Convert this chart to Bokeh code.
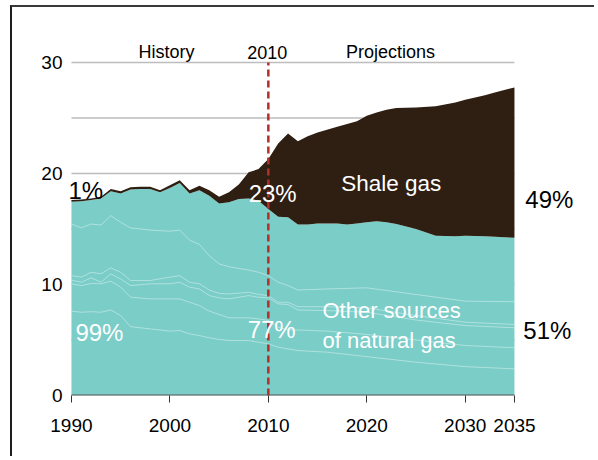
from bokeh.plotting import figure
from bokeh.models import Range1d, FixedTicker, ColumnDataSource
from bokeh.embed import file_html
from bokeh.resources import INLINE
from bokeh.core.properties import value

# ---- data ----
years = list(range(1990, 2015)) + [2015, 2017, 2018, 2019, 2020, 2021, 2022,
                                   2023, 2025, 2027, 2029, 2030, 2032, 2033, 2035]
total_gas = [17.6, 17.65, 17.75, 17.9, 18.6, 18.4, 18.75, 18.8, 18.8, 18.5,
             18.95, 19.4, 18.5, 18.9, 18.5, 17.9, 18.3, 19.0, 20.1, 20.4,
             21.3, 22.7, 23.6, 22.9, 23.35,
             23.7, 24.2, 24.45, 24.7, 25.2, 25.5, 25.75, 25.9, 25.95, 26.05,
             26.4, 26.65, 27.05, 27.3, 27.75]
other_sources = [17.45, 17.5, 17.6, 17.75, 18.4, 18.2, 18.55, 18.6, 18.6, 18.3,
                 18.7, 19.15, 18.2, 18.5, 18.0, 17.3, 17.4, 17.7, 17.75, 17.55,
                 16.8, 16.1, 16.05, 15.4, 15.4,
                 15.5, 15.5, 15.4, 15.5, 15.6, 15.7, 15.6, 15.45, 15.0, 14.4,
                 14.35, 14.4, 14.35, 14.3, 14.2]

# inner boundaries of the "other sources" components (cumulative)
sub_years = [1990, 1991, 1992, 1993, 1994, 1995, 1996, 1998, 2000, 2001, 2002,
             2003, 2004, 2005, 2006, 2008, 2009, 2010, 2011, 2012, 2013, 2016,
             2020, 2025, 2030, 2035]
sub_a = [15.45, 15.1, 15.45, 15.35, 16.2, 15.6, 15.1, 14.9, 14.8, 14.9, 14.0,
         13.6, 12.6, 11.85, 11.6, 11.3, 11.1, 10.8, 10.2, 9.9, 9.5, 9.6, 9.7,
         9.1, 8.5, 8.45]
sub_b = [10.8, 10.66, 11.1, 10.96, 11.5, 11.1, 10.36, 10.36, 10.66, 10.8, 10.2,
         10.06, 9.5, 9.2, 9.15, 9.3, 9.1, 9.0, 8.4, 8.4, 8.0, 8.0, 7.9, 7.2,
         6.6, 6.4]
sub_c = [10.4, 10.2, 10.6, 10.2, 10.96, 10.5, 9.9, 10.06, 10.06, 10.2, 9.76,
         9.6, 9.0, 8.8, 8.7, 9.0, 8.85, 8.8, 8.25, 8.2, 7.7, 7.65, 7.5, 6.8,
         6.3, 6.1]
sub_d = [10.06, 9.9, 10.1, 10.06, 10.3, 9.76, 8.86, 8.7, 8.7, 8.7, 8.4, 8.1,
         7.6, 7.3, 7.0, 7.0, 6.9, 6.76, 6.15, 5.9, 5.9, 5.8, 5.5, 5.0, 4.5, 4.3]
sub_e = [7.6, 7.5, 7.55, 7.5, 7.7, 7.2, 6.2, 6.0, 5.8, 5.85, 5.55, 5.4, 5.2,
         5.05, 4.95, 4.95, 4.8, 4.65, 4.35, 4.2, 4.05, 3.9, 3.5, 3.0, 2.6, 2.4]

y_ticks = [0, 10, 20, 30]
grid_values = [5, 10, 15, 20, 25, 30]
x_ticks = [1990, 2000, 2010, 2020, 2030, 2035]
base_year = 2010

TEAL = "#7BCDC8"
BROWN = "#2F1E12"
RED = "#B3302A"
FONT = "Liberation Sans"

p = figure(width=584, height=451, output_backend="svg", toolbar_location=None,
           x_range=Range1d(1989.6, 2041.2), y_range=Range1d(0, 32.88),
           min_border_left=55, min_border_right=21, min_border_top=23,
           min_border_bottom=63)
p.margin = (5, 0, 0, 10)
p.styles = {"border-left": "2px solid #1e1e1e", "border-top": "2px solid #3a3a3a"}
p.outline_line_color = None
p.background_fill_color = "white"
p.border_fill_color = "white"
p.xgrid.visible = False
p.ygrid.visible = False

# gridlines (only across the data span)
x0 = min(years)
x1 = max(years)
p.segment(x0=[x0] * len(grid_values), x1=[x1] * len(grid_values),
          y0=grid_values, y1=grid_values, line_color="#bdbdbd", line_width=1.6)

src = ColumnDataSource(dict(x=years, total=total_gas, other=other_sources,
                            zero=[0] * len(years)))
p.varea(x="x", y1="zero", y2="other", source=src, fill_color=TEAL)
p.varea(x="x", y1="other", y2="total", source=src, fill_color=BROWN)

for sub in (sub_a, sub_b, sub_c, sub_d, sub_e):
    p.line(sub_years, sub, line_color="white", line_alpha=0.4, line_width=1)

# baseline of the x axis across the data span
p.segment(x0=[x0], x1=[x1], y0=[0], y1=[0], line_color="#555555",
          line_width=1.8)

# 2010 divider
p.segment(x0=[base_year], x1=[base_year], y0=[0], y1=[max(y_ticks)],
          line_color=RED, line_width=2.5, line_dash="7 4")

# axes
p.xaxis.ticker = FixedTicker(ticks=x_ticks)
p.xaxis.axis_line_color = None
p.xaxis.major_tick_out = 7
p.xaxis.major_tick_in = 0
p.xaxis.major_tick_line_color = "#333333"
p.xaxis.minor_tick_line_color = None
p.xaxis.major_label_standoff = 16
p.xaxis.major_label_text_font = FONT
p.xaxis.major_label_text_font_size = "19px"
p.xaxis.major_label_text_color = "black"

p.yaxis.ticker = FixedTicker(ticks=y_ticks)
p.yaxis.axis_line_color = None
p.yaxis.major_tick_line_color = None
p.yaxis.major_tick_out = 0
p.yaxis.major_tick_in = 0
p.yaxis.minor_tick_line_color = None
p.yaxis.major_label_standoff = 5
p.yaxis.major_label_text_font = FONT
p.yaxis.major_label_text_font_size = "19px"
p.yaxis.major_label_text_color = "black"


def txt(x, y, s, size, color, align="left"):
    p.text(x=[x], y=[y], text=[s], text_font=value(FONT),
           text_font_size=size, text_color=color, text_align=align,
           text_baseline="alphabetic")


txt(1999.65, 30.9, "History", "18px", "black", "center")
txt(2009.9, 30.9, "2010", "18px", "black", "center")
txt(2022.4, 30.9, "Projections", "18px", "black", "center")
txt(1989.7, 18.47, "1%", "24px", "black")
txt(2008.0, 18.2, "23%", "24px", "white")
txt(1990.4, 5.68, "99%", "24px", "white")
txt(2007.9, 5.95, "77%", "24px", "white")
txt(2036.1, 17.66, "49%", "24px", "black")
txt(2035.9, 5.86, "51%", "24px", "black")
txt(2017.4, 19.1, "Shale gas", "22.5px", "white")
txt(2015.5, 7.66, "Other sources", "22px", "white")
txt(2015.5, 4.95, "of natural gas", "22px", "white")

open("out.html", "w").write(file_html(p, INLINE))
